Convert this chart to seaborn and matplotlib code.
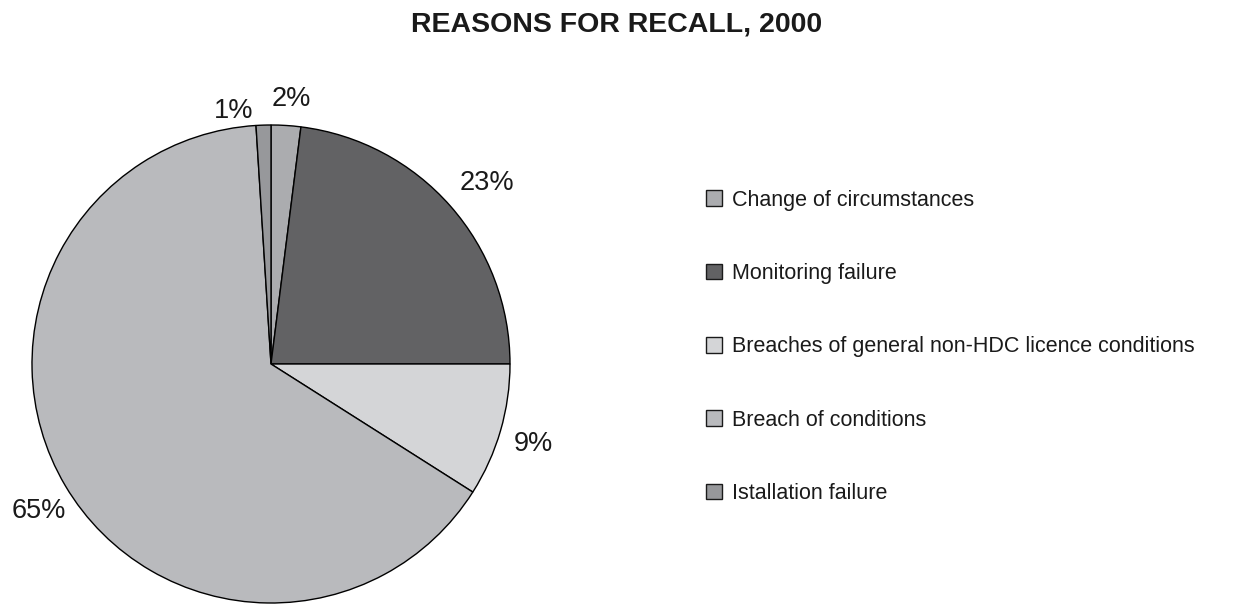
import numpy as np
import matplotlib
matplotlib.use("Agg")
import matplotlib.pyplot as plt
from matplotlib.patches import Patch
import seaborn as sns

# Recall reasons and their shares (%)
categories = [
    "Change of circumstances",
    "Monitoring failure",
    "Breaches of general non-HDC licence conditions",
    "Breach of conditions",
    "Istallation failure",
]
shares = [2, 23, 9, 65, 1]
pct_labels = ["2%", "23%", "9%", "65%", "1%"]
colors = ["#abacaf", "#626264", "#d4d5d7", "#b9babd", "#97989b"]

sns.set_theme(style="white")
plt.rcParams["font.family"] = ["Liberation Sans", "DejaVu Sans"]

W, H = 1233, 605
fig = plt.figure(figsize=(W / 100, H / 100), dpi=100)
fig.patch.set_facecolor("white")

# Pie centre and radius in pixels
cx, cy, r = 271, 364, 239
ax = fig.add_axes([(cx - r) / W, (H - cy - r) / H, 2 * r / W, 2 * r / H])

wedges, _ = ax.pie(
    shares,
    colors=colors,
    startangle=90,
    counterclock=False,
    radius=1,
    wedgeprops=dict(edgecolor="black", linewidth=1.0),
)
ax.set_xlim(-1, 1)
ax.set_ylim(-1, 1)
ax.set_aspect("equal")
ax.axis("off")

# Percentage labels: (distance, angle) around the pie, nudged apart for
# the two narrow slices at the top
label_pos = {
    0: (1.11, 85.7),
    1: (1.18, 40.0),
    2: (1.15, -17.0),
    3: (1.15, -147.6),
    4: (1.07, 98.4),
}
for i, w in enumerate(wedges):
    dist, ang = label_pos[i]
    a = np.deg2rad(ang)
    ax.text(dist * np.cos(a), dist * np.sin(a), pct_labels[i],
            ha="center", va="center", fontsize=19.5, color="#1a1a1a",
            clip_on=False)

fig.text(617 / W, 1 - 24 / H, "REASONS FOR RECALL, 2000",
         ha="center", va="center", fontsize=20.5, fontweight="bold",
         color="#1a1a1a")

handles = [Patch(facecolor=c, edgecolor="#1a1a1a", linewidth=1.0) for c in colors]
leg = fig.legend(
    handles, categories,
    loc="upper left",
    bbox_to_anchor=(695 / W, 1 - 179 / H),
    frameon=False,
    fontsize=15.5,
    handlelength=0.75,
    handleheight=0.75,
    handletextpad=0.47,
    labelspacing=2.43,
    borderpad=0,
)
for t in leg.get_texts():
    t.set_color("#1a1a1a")

fig.savefig("out.png", dpi=100, facecolor="white")
